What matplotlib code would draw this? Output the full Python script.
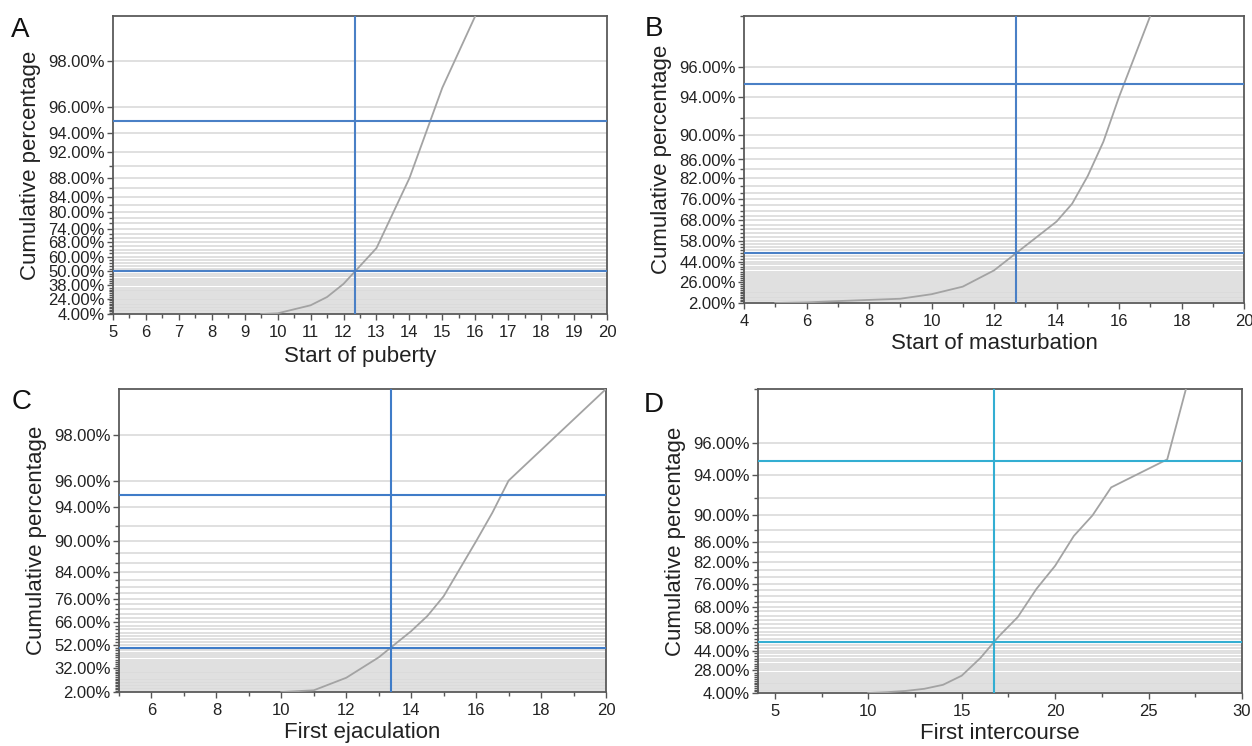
import numpy as np
import matplotlib
matplotlib.use("Agg")
import matplotlib.pyplot as plt
from matplotlib.ticker import FixedLocator, FuncFormatter

plt.rcParams['font.family'] = ['Liberation Sans', 'DejaVu Sans']

# Panel A - start of puberty
a_age = [9.5, 10, 11, 11.5, 12, 13, 14, 15, 16]
a_pct = [4.0, 5.0, 16.0, 26.0, 39.5, 65.0, 88.0, 97.0, 99.0]
a_ticks = [4, 24, 38, 50, 60, 68, 74, 80, 84, 88, 92, 94, 96, 98]

# Panel B - start of masturbation
b_age = [5, 6, 7, 8, 9, 10, 11, 12, 14, 14.5, 15, 15.5, 16, 17]
b_pct = [2.0, 2.8, 4.5, 6.0, 7.5, 13.0, 21.5, 37.0, 67.5, 74.5, 82.5, 89.0, 94.0, 98.0]
b_ticks = [2, 26, 44, 58, 68, 76, 82, 86, 90, 94, 96]

# Panel C - first ejaculation
c_age = [10, 11, 12, 13, 14, 14.5, 15, 16, 16.5, 17, 20]
c_pct = [2.0, 4.5, 21.0, 42.0, 61.0, 69.0, 77.0, 90.0, 93.5, 96.0, 99.0]
c_ticks = [2, 32, 52, 66, 76, 84, 90, 94, 96, 98]

# Panel D - first intercourse
d_age = [10, 11, 12, 13, 14, 15, 16, 17, 18, 19, 20, 21, 22, 23, 26, 27]
d_pct = [4.0, 5.0, 6.5, 9.0, 13.5, 23.0, 38.5, 53.5, 63.5, 74.5, 81.0, 87.0, 90.0, 93.0, 95.1, 98.0]
d_ticks = [4, 28, 44, 58, 68, 76, 82, 86, 90, 94, 96]


def fwd(p):
    p = np.clip(np.asarray(p, dtype=float), -50, 99.99)
    return -np.log(1 - p / 100.0)


def inv(t):
    return 100.0 * (1 - np.exp(-np.asarray(t, dtype=float)))


fig = plt.figure(figsize=(12.52, 7.46), dpi=100)
W, H = 1252, 746

panels = [
    # letter, box (l, r, t, b px), ages, pcts, yticks, ylim, xlim, major, minor, xlabel, line colour, letter pos, xlabel pad
    ("A", (113, 607, 16, 314), a_age, a_pct, a_ticks, (4, 99), (5, 20),
     np.arange(5, 21, 1), np.arange(5.5, 20, 1), "Start of puberty", "#4a80c6", (20, 30), 4),
    ("B", (744, 1244, 16, 303), b_age, b_pct, b_ticks, (2, 98), (4, 20),
     np.arange(4, 21, 2), np.arange(5, 20, 2), "Start of masturbation", "#4a80c6", (654, 29), 3),
    ("C", (119, 606, 389, 692), c_age, c_pct, c_ticks, (2, 99), (5, 20),
     np.arange(6, 21, 2), np.arange(5, 20, 2), "First ejaculation", "#3f7cc8", (22, 402), 3),
    ("D", (758, 1242, 389, 693), d_age, d_pct, d_ticks, (4, 98), (4.1, 30),
     np.arange(5, 31, 5), np.arange(7.5, 30, 5), "First intercourse", "#33aed2", (654, 405), 3),
]

for letter, box, age, pct, yt, ylim, xlim, xmaj, xmin, xlabel, lc, lpos, xpad in panels:
    l, r, t, b = box
    ax = fig.add_axes([l / W, 1 - b / H, (r - l) / W, (b - t) / H])
    ax.set_yscale('function', functions=(fwd, inv))
    ax.set_ylim(*ylim)
    ax.set_xlim(*xlim)

    grid = np.arange(2, 99, 2)
    for g in grid:
        if ylim[0] < g < ylim[1]:
            ax.axhline(g, color="#dadada", lw=1.2, zorder=1)

    ax.plot(age, pct, color="#a3a3a3", lw=1.3, zorder=3, clip_on=True)

    # median from the curve in the transformed space
    med = np.interp(fwd(50), fwd(pct), age)
    ax.axhline(50, color=lc, lw=1.5, zorder=4)
    ax.axhline(95, color=lc, lw=1.5, zorder=4)
    ax.axvline(med, color=lc, lw=1.5, zorder=4)

    ax.yaxis.set_major_locator(FixedLocator(yt))
    ax.yaxis.set_minor_locator(FixedLocator([g for g in grid if g not in yt]))
    ax.yaxis.set_major_formatter(FuncFormatter(lambda v, pos: "%.2f%%" % v))
    ax.yaxis.set_minor_formatter(FuncFormatter(lambda v, pos: ""))
    ax.xaxis.set_major_locator(FixedLocator(xmaj))
    ax.xaxis.set_minor_locator(FixedLocator(xmin))

    ax.tick_params(axis='both', which='major', direction='out', length=4, width=1,
                   color="#555555", labelsize=12, labelcolor="#222222", pad=2)
    ax.tick_params(axis='both', which='minor', direction='out', length=3, width=1,
                   color="#555555")
    ax.tick_params(axis='x', which='major', pad=4)

    for s in ax.spines.values():
        s.set_color("#5a5a5a")
        s.set_linewidth(1.3)

    ax.set_ylabel("Cumulative percentage", fontsize=16, color="#222222", labelpad=5)
    ax.set_xlabel(xlabel, fontsize=16, color="#222222", labelpad=xpad)

    fig.text(lpos[0] / W, 1 - lpos[1] / H, letter, fontsize=20, color="#111111",
             ha="center", va="center")

fig.savefig("out.png", dpi=100)
